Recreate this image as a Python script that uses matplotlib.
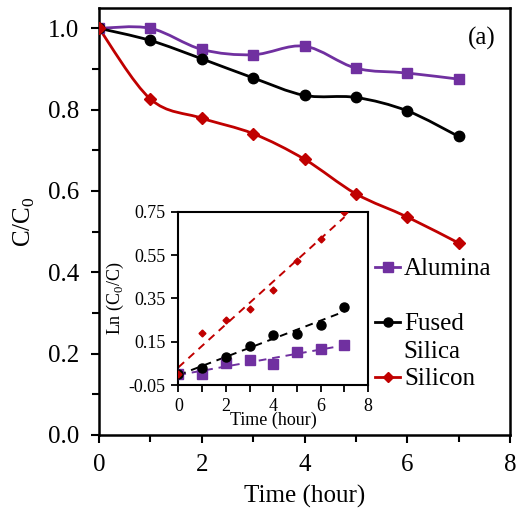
import numpy as np
import matplotlib
matplotlib.use('Agg')
import matplotlib.pyplot as plt
from matplotlib.path import Path
from matplotlib.patches import PathPatch
from matplotlib.lines import Line2D
from matplotlib.ticker import MultipleLocator, FixedLocator

plt.rcParams['font.family'] = ['Liberation Serif', 'DejaVu Serif']
plt.rcParams['mathtext.fontset'] = 'custom'
plt.rcParams['mathtext.rm'] = 'Liberation Serif'

# time points (hour) and normalised concentration C/C0
time = [0, 1, 2, 3, 4, 5, 6, 7]
alumina = [1.0, 1.0, 0.948, 0.935, 0.956, 0.902, 0.890, 0.875]
fused_silica = [1.0, 0.970, 0.925, 0.878, 0.835, 0.830, 0.797, 0.734]
silicon = [1.0, 0.826, 0.779, 0.741, 0.678, 0.593, 0.536, 0.472]

purple = '#7030a0'
red = '#c00000'
black = '#000000'


def smooth_path(x, y):
    # excel style smoothed line: catmull-rom segments as cubic beziers
    x = np.asarray(x, float)
    y = np.asarray(y, float)
    p = np.column_stack([x, y])
    pts = np.vstack([p[0], p, p[-1]])
    verts = [p[0]]
    codes = [Path.MOVETO]
    for i in range(1, len(pts) - 2):
        p0, p1, p2, p3 = pts[i - 1], pts[i], pts[i + 1], pts[i + 2]
        c1 = p1 + (p2 - p0) / 6.0
        c2 = p2 - (p3 - p1) / 6.0
        verts += [c1, c2, p2]
        codes += [Path.CURVE4] * 3
    return Path(verts, codes)


fig = plt.figure(figsize=(5.16, 5.2), dpi=100)
ax = fig.add_axes([0.1919, 0.1635, 0.7965, 0.8212])

series = [(alumina, purple, 's', 7.5, 'Alumina'),
          (fused_silica, black, 'o', 7.5, 'Fused'),
          (silicon, red, 'D', 6, 'Silicon')]
handles = []
for vals, col, mk, ms, lab in series:
    ax.add_patch(PathPatch(smooth_path(time, vals), fill=False, edgecolor=col, lw=2, zorder=2))
    ax.plot(time, vals, linestyle='none', marker=mk, ms=ms, color=col, zorder=3)
    handles.append(Line2D([], [], color=col, lw=2, marker=mk, ms=ms - 1))

ax.set_xlim(0, 8)
ax.set_ylim(0, 1.05)
ax.xaxis.set_major_locator(MultipleLocator(2))
ax.xaxis.set_minor_locator(MultipleLocator(1))
ax.yaxis.set_major_locator(MultipleLocator(0.2))
ax.yaxis.set_minor_locator(MultipleLocator(0.1))
ax.yaxis.set_major_formatter(matplotlib.ticker.FormatStrFormatter('%.1f'))
ax.tick_params(which='both', direction='out', width=1.5, labelsize=18)
ax.tick_params(which='major', length=6, pad=8)
ax.tick_params(which='minor', length=5)
for s in ax.spines.values():
    s.set_linewidth(1.8)
ax.set_xlabel('Time (hour)', fontsize=18, labelpad=6)
ax.set_ylabel('C/C$_\\mathregular{0}$', fontsize=18, labelpad=8)
ax.text(0.965, 0.955, '(a)', transform=ax.transAxes, fontsize=18, ha='right', va='top')

leg = ax.legend(handles, ['Alumina', 'Fused', 'Silicon'], loc='upper left',
                bbox_to_anchor=(0.672, 0.415), frameon=False, fontsize=18,
                handlelength=1.0, handletextpad=0.15, labelspacing=1.3,
                borderpad=0, borderaxespad=0)
ax.text(0.740, 0.195, 'Silica', transform=ax.transAxes, fontsize=18, va='center', ha='left')

# inset: first order kinetics ln(C0/C) with linear fits
ins = fig.add_axes([0.3456, 0.2596, 0.368, 0.3333])
t = np.array(time, float)
kin = [(alumina, purple, 's', 6.5), (fused_silica, black, 'o', 6.5), (silicon, red, 'D', 3.5)]
for vals, col, mk, ms in kin:
    lnv = np.log(1.0 / np.array(vals))
    k, b = np.polyfit(t, lnv, 1)
    ins.plot(t, k * t + b, linestyle=(0, (4, 3)), color=col, lw=1.4, zorder=2)
    ins.plot(t, lnv, linestyle='none', marker=mk, ms=ms, color=col, zorder=3)

ins.set_xlim(0, 8)
ins.set_ylim(-0.05, 0.75)
ins.xaxis.set_major_locator(MultipleLocator(2))
ins.xaxis.set_minor_locator(MultipleLocator(1))
ins.yaxis.set_major_locator(FixedLocator([-0.05, 0.15, 0.35, 0.55, 0.75]))
ins.yaxis.set_major_formatter(matplotlib.ticker.FormatStrFormatter('%.2f'))
ins.tick_params(which='both', direction='out', width=1.3, labelsize=13)
ins.tick_params(which='major', length=5, pad=4)
ins.tick_params(which='minor', length=5)
for s in ins.spines.values():
    s.set_linewidth(1.5)
ins.set_xlabel('Time (hour)', fontsize=13, labelpad=-2)
ins.set_ylabel('Ln (C$_\\mathregular{0}$/C)', fontsize=13, labelpad=2)

fig.savefig('out.png', dpi=100)
